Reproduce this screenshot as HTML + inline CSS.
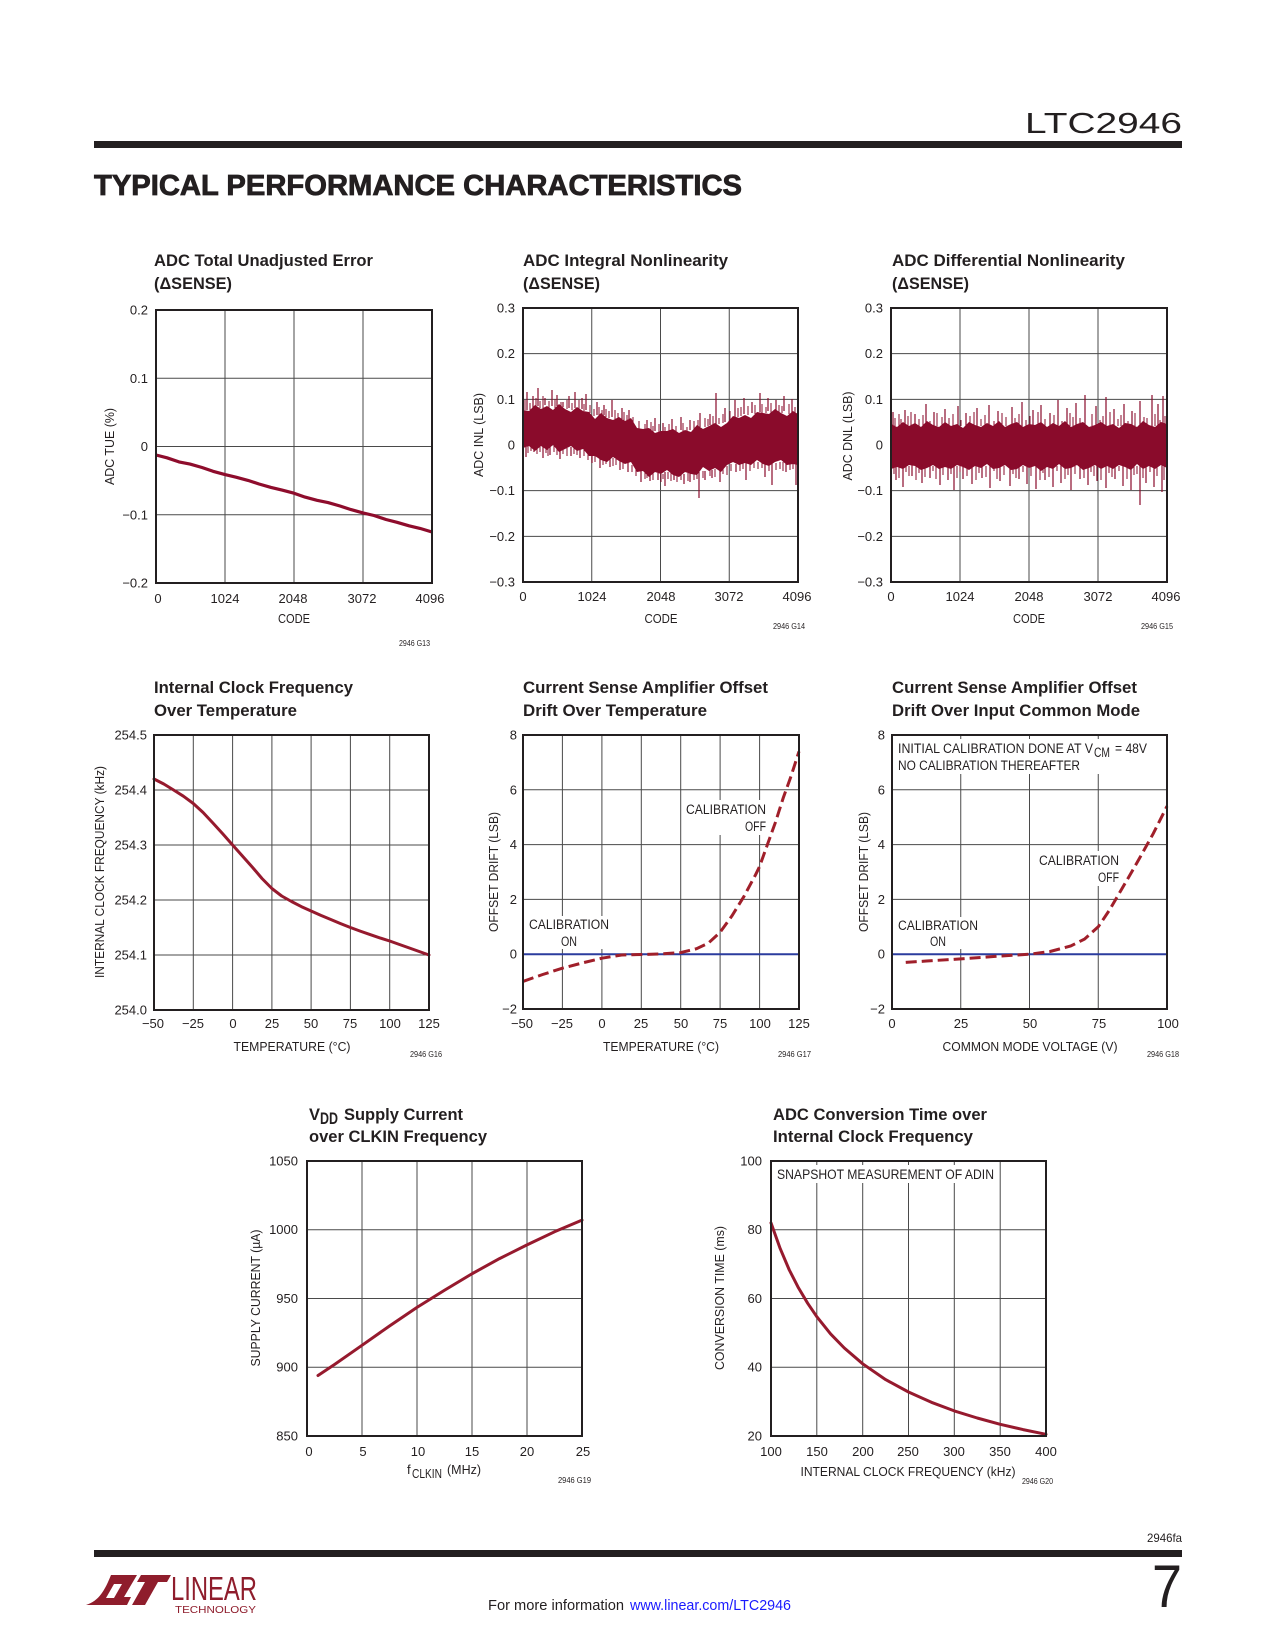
<!DOCTYPE html>
<html>
<head>
<meta charset="utf-8">
<style>
html,body{margin:0;padding:0;background:#fff;}
svg{display:block;}
.t{font-family:"Liberation Sans",sans-serif;font-size:13px;fill:#231f20;}
.ax{font-family:"Liberation Sans",sans-serif;font-size:13px;fill:#231f20;}
.ti{font-family:"Liberation Sans",sans-serif;font-size:17px;font-weight:bold;fill:#231f20;}
.sm{font-family:"Liberation Sans",sans-serif;font-size:8px;fill:#231f20;}
.an{font-family:"Liberation Sans",sans-serif;font-size:13.5px;fill:#231f20;}
.g{stroke:#4a4a4a;stroke-width:1;fill:none;}
.b{stroke:#231f20;stroke-width:2;fill:none;}
.cv{stroke:#961a2e;stroke-width:3;fill:none;stroke-linejoin:round;stroke-linecap:round;}
.dash{stroke:#a01f2a;stroke-width:3;fill:none;stroke-dasharray:11 5;}
.blue{stroke:#2b3c9e;stroke-width:2;}
</style>
</head>
<body>
<svg width="1275" height="1650" viewBox="0 0 1275 1650" xmlns="http://www.w3.org/2000/svg">
<rect x="0" y="0" width="1275" height="1650" fill="#fff"/>

<!-- HEADER -->
<text x="1182" y="133" text-anchor="end" font-family="Liberation Sans, sans-serif" font-size="29" fill="#231f20" textLength="157" lengthAdjust="spacingAndGlyphs">LTC2946</text>
<rect x="94" y="141" width="1088" height="7" fill="#231f20"/>
<text x="94" y="195" font-family="Liberation Sans, sans-serif" font-size="28.5" font-weight="bold" fill="#231f20" stroke="#231f20" stroke-width="0.8" textLength="648" lengthAdjust="spacingAndGlyphs">TYPICAL PERFORMANCE CHARACTERISTICS</text>

<!-- ============ CHART 1: TUE ============ -->
<text x="154" y="266" class="ti" textLength="219" lengthAdjust="spacingAndGlyphs">ADC Total Unadjusted Error</text>
<text x="154" y="289" class="ti" textLength="78" lengthAdjust="spacingAndGlyphs">(ΔSENSE)</text>
<g>
<line class="g" x1="225" y1="310" x2="225" y2="583"/>
<line class="g" x1="294" y1="310" x2="294" y2="583"/>
<line class="g" x1="363" y1="310" x2="363" y2="583"/>
<line class="g" x1="156" y1="378.25" x2="432" y2="378.25"/>
<line class="g" x1="156" y1="446.5" x2="432" y2="446.5"/>
<line class="g" x1="156" y1="514.75" x2="432" y2="514.75"/>
<polyline points="156,455 167,457.8 179,461.9 190,464.1 202,467.5 213,471.3 225,474.6 236,477.2 248,480.4 259,484.0 271,487.4 282,490.1 294,493.2 305,497.1 317,500.3 328,502.6 340,506.0 351,509.6 363,512.9 374,515.5 386,519.5 397,522.3 409,525.8 420,528.4 432,532" stroke="#8e0c2c" stroke-width="3.2" fill="none" stroke-linejoin="round"/>
<rect class="b" x="156" y="310" width="276" height="273"/>
</g>
<g class="t" text-anchor="end">
<text x="148" y="314.5">0.2</text>
<text x="148" y="382.75">0.1</text>
<text x="148" y="451">0</text>
<text x="148" y="519.25">−0.1</text>
<text x="148" y="587.5">−0.2</text>
</g>
<g class="t" text-anchor="middle">
<text x="158" y="603">0</text>
<text x="225" y="603">1024</text>
<text x="293" y="603">2048</text>
<text x="362" y="603">3072</text>
<text x="430" y="603">4096</text>
</g>
<text x="294" y="623" class="ax" text-anchor="middle" textLength="32" lengthAdjust="spacingAndGlyphs">CODE</text>
<text transform="translate(114,446.5) rotate(-90)" class="ax" text-anchor="middle" textLength="77" lengthAdjust="spacingAndGlyphs">ADC TUE (%)</text>
<text x="430" y="646" class="sm" text-anchor="end" textLength="31" lengthAdjust="spacingAndGlyphs">2946 G13</text>

<!-- ============ CHART 2: INL ============ -->
<text x="523" y="266" class="ti" textLength="205" lengthAdjust="spacingAndGlyphs">ADC Integral Nonlinearity</text>
<text x="523" y="289" class="ti" textLength="77" lengthAdjust="spacingAndGlyphs">(ΔSENSE)</text>
<g>
<line class="g" x1="591.75" y1="308" x2="591.75" y2="582"/>
<line class="g" x1="660.5" y1="308" x2="660.5" y2="582"/>
<line class="g" x1="729.25" y1="308" x2="729.25" y2="582"/>
<line class="g" x1="523" y1="353.67" x2="798" y2="353.67"/>
<line class="g" x1="523" y1="399.33" x2="798" y2="399.33"/>
<line class="g" x1="523" y1="445" x2="798" y2="445"/>
<line class="g" x1="523" y1="490.67" x2="798" y2="490.67"/>
<line class="g" x1="523" y1="536.33" x2="798" y2="536.33"/>
<polygon fill="#8a0b2b" points="523,410 529,411 535,405 541,409 547,406 553,410 559,404 565,409 571,412 577,407 583,411 589,412 595,419 601,413 607,418 613,420 619,417 625,421 631,418 637,428 643,429 649,428 655,433 661,431 667,431 673,429 679,433 685,430 691,432 697,425 703,429 709,426 715,423 721,427 727,423 733,416 739,418 745,415 751,418 757,412 763,413 769,414 775,409 781,413 787,416 793,411 798,414 798,465 793,464 787,465 781,460 775,462 769,466 763,464 757,460 751,465 745,463 739,465 733,462 727,465 721,472 715,468 709,471 703,467 697,475 691,474 685,472 679,477 673,475 667,470 661,474 655,472 649,477 643,471 637,472 631,462 625,464 619,461 613,457 607,462 601,460 595,456 589,456 583,449 577,451 571,446 565,449 559,452 553,445 547,450 541,446 535,451 529,446 523,448"/>
<path stroke="#8a0b2b" stroke-width="1.2" fill="none" d="M527,410V392 M533,408V396 M538,406V388 M545,405V398 M552,406V390 M557,406V395 M563,407V402 M569,408V396 M575,408V392 M582,409V398 M586,410V394 M597,415V402 M604,415V405 M612,417V400 M622,419V408 M629,421V410 M647,430V420 M655,431V418 M663,431V423 M672,431V419 M681,430V417 M690,430V420 M700,427V413 M710,425V414 M716,424V393 M725,422V408 M735,418V400 M744,414V398 M752,413V402 M760,412V393 M768,411V398 M776,412V400 M784,411V396 M792,413V399 M526,447V457 M534,447V452 M543,446V458 M550,447V455 M560,448V459 M571,447V456 M580,449V458 M592,454V463 M600,457V468 M610,457V467 M620,460V470 M628,462V472 M641,470V482 M650,472V481 M658,473V480 M665,472V486 M674,473V480 M684,474V484 M690,473V482 M699,472V498 M705,471V480 M712,470V478 M720,468V482 M736,464V472 M746,462V480 M765,462V477 M772,462V485 M786,463V472 M796,462V485"/>
<path stroke="#8a0b2b" stroke-width="1" fill="none" d="M525,410V400 M530,410V403 M536,408V398 M540,408V401 M543,408V396 M549,408V401 M555,408V399 M561,408V402 M567,409V400 M572,410V403 M579,410V400 M584,411V404 M590,413V405 M594,416V409 M599,416V407 M602,416V410 M606,417V409 M609,418V411 M615,419V410 M618,419V413 M624,421V412 M627,422V415 M633,425V417 M639,430V421 M645,431V424 M651,432V422 M653,432V426 M659,432V424 M665,432V427 M669,432V424 M676,432V426 M683,432V423 M687,432V427 M694,430V421 M698,428V420 M705,427V418 M708,426V419 M713,425V416 M719,424V418 M723,423V414 M730,420V411 M738,417V408 M741,416V407 M748,415V406 M755,414V405 M762,413V404 M766,413V407 M771,413V403 M779,413V405 M782,413V406 M789,414V404 M795,414V407 M528,446V453 M531,446V451 M537,446V454 M540,446V452 M546,446V453 M548,446V456 M554,446V452 M557,448V455 M563,448V454 M567,448V456 M574,447V454 M577,448V455 M584,450V456 M588,453V460 M595,456V462 M603,458V465 M606,458V464 M613,458V466 M616,459V465 M623,462V469 M632,465V472 M636,468V476 M645,472V479 M647,472V478 M653,473V480 M661,474V482 M663,474V479 M668,472V479 M671,473V481 M677,474V482 M681,474V480 M688,473V481 M694,473V480 M697,472V479 M703,471V478 M710,470V476 M715,469V477 M723,467V474 M727,466V475 M731,464V471 M740,464V471 M743,463V469 M750,463V471 M754,462V468 M758,462V469 M762,462V468 M769,463V471 M776,463V470 M780,462V469 M783,462V471 M790,463V470 M793,463V469"/>
<rect class="b" x="523" y="308" width="275" height="274"/>
</g>
<g class="t" text-anchor="end">
<text x="515" y="312.5">0.3</text>
<text x="515" y="358.2">0.2</text>
<text x="515" y="403.8">0.1</text>
<text x="515" y="449.5">0</text>
<text x="515" y="495.2">−0.1</text>
<text x="515" y="540.8">−0.2</text>
<text x="515" y="586.5">−0.3</text>
</g>
<g class="t" text-anchor="middle">
<text x="523" y="601">0</text>
<text x="592" y="601">1024</text>
<text x="661" y="601">2048</text>
<text x="729" y="601">3072</text>
<text x="797" y="601">4096</text>
</g>
<text x="661" y="623" class="ax" text-anchor="middle" textLength="33" lengthAdjust="spacingAndGlyphs">CODE</text>
<text transform="translate(483,435) rotate(-90)" class="ax" text-anchor="middle" textLength="84" lengthAdjust="spacingAndGlyphs">ADC INL (LSB)</text>
<text x="805" y="629" class="sm" text-anchor="end" textLength="32" lengthAdjust="spacingAndGlyphs">2946 G14</text>

<!-- ============ CHART 3: DNL ============ -->
<text x="892" y="266" class="ti" textLength="233" lengthAdjust="spacingAndGlyphs">ADC Differential Nonlinearity</text>
<text x="892" y="289" class="ti" textLength="77" lengthAdjust="spacingAndGlyphs">(ΔSENSE)</text>
<g>
<line class="g" x1="960" y1="308" x2="960" y2="582"/>
<line class="g" x1="1029" y1="308" x2="1029" y2="582"/>
<line class="g" x1="1098" y1="308" x2="1098" y2="582"/>
<line class="g" x1="891" y1="353.67" x2="1167" y2="353.67"/>
<line class="g" x1="891" y1="399.33" x2="1167" y2="399.33"/>
<line class="g" x1="891" y1="445" x2="1167" y2="445"/>
<line class="g" x1="891" y1="490.67" x2="1167" y2="490.67"/>
<line class="g" x1="891" y1="536.33" x2="1167" y2="536.33"/>
<polygon fill="#8a0b2b" points="891,424 897,427 903,422 909,426 915,423 921,427 927,421 933,425 939,427 945,422 951,426 957,424 963,428 969,422 975,425 981,427 987,423 993,426 999,421 1005,427 1011,424 1017,422 1023,427 1029,424 1035,425 1041,422 1047,427 1053,423 1059,426 1065,421 1071,427 1077,424 1083,422 1089,427 1095,425 1101,422 1107,426 1113,424 1119,428 1125,423 1131,424 1137,427 1143,421 1149,425 1155,427 1161,422 1167,424 1167,468 1161,465 1155,469 1149,466 1143,469 1137,464 1131,470 1125,467 1119,465 1113,469 1107,466 1101,469 1095,465 1089,468 1083,470 1077,465 1071,468 1065,469 1059,464 1053,469 1047,467 1041,471 1035,466 1029,468 1023,465 1017,469 1011,470 1005,465 999,468 993,469 987,464 981,468 975,466 969,470 963,467 957,465 951,469 945,467 939,469 933,465 927,468 921,470 915,466 909,465 903,469 897,467 891,469"/>
<path stroke="#8a0b2b" stroke-width="1.2" fill="none" d="M893,428V412 M905,428V410 M915,428V414 M926,428V404 M934,428V412 M945,428V409 M958,428V406 M966,428V413 M977,428V408 M989,428V405 M998,428V411 M1012,428V407 M1022,428V402 M1033,428V410 M1041,428V405 M1050,428V413 M1058,428V400 M1067,428V408 M1076,428V403 M1085,428V395 M1096,428V406 M1106,428V397 M1114,428V409 M1124,428V404 M1132,428V411 M1140,428V401 M1152,428V395 M1158,428V404 M1163,428V396 M896,464V480 M903,464V487 M912,464V476 M922,464V483 M930,464V478 M940,464V485 M948,464V480 M954,464V490 M963,464V479 M972,464V484 M982,464V478 M990,464V488 M1000,464V481 M1010,464V486 M1019,464V479 M1027,464V484 M1036,464V489 M1045,464V480 M1053,464V487 M1061,464V483 M1071,464V490 M1080,464V479 M1088,464V485 M1097,464V481 M1106,464V488 M1115,464V479 M1123,464V486 M1131,464V490 M1140,464V505 M1146,464V483 M1154,464V487 M1162,464V492"/>
<path stroke="#8a0b2b" stroke-width="1" fill="none" d="M895,426V418 M899,426V414 M901,426V419 M908,426V416 M911,426V412 M919,426V419 M923,426V415 M930,426V421 M937,426V413 M942,426V417 M949,426V418 M953,426V414 M961,426V420 M970,426V416 M974,426V412 M981,426V419 M985,426V415 M994,426V421 M1002,426V413 M1006,426V417 M1015,426V418 M1019,426V414 M1026,426V420 M1030,426V416 M1038,426V412 M1045,426V419 M1054,426V415 M1062,426V421 M1070,426V413 M1073,426V417 M1080,426V418 M1092,426V414 M1100,426V420 M1103,426V416 M1110,426V412 M1118,426V419 M1121,426V415 M1128,426V421 M1135,426V413 M1144,426V417 M1147,426V418 M1155,426V414 M1160,426V420 M1165,426V416 M894,466V474 M899,466V478 M906,466V472 M909,466V476 M916,466V480 M919,466V473 M925,466V477 M933,466V471 M936,466V479 M943,466V475 M951,466V474 M957,466V478 M960,466V472 M967,466V476 M976,466V480 M979,466V473 M986,466V477 M994,466V471 M997,466V479 M1004,466V475 M1013,466V474 M1016,466V478 M1023,466V472 M1031,466V476 M1040,466V480 M1043,466V473 M1049,466V477 M1057,466V471 M1065,466V479 M1068,466V475 M1075,466V474 M1084,466V478 M1091,466V472 M1094,466V476 M1101,466V480 M1109,466V473 M1112,466V477 M1119,466V471 M1127,466V479 M1134,466V475 M1137,466V474 M1143,466V478 M1150,466V472 M1157,466V476 M1164,466V480"/>
<rect class="b" x="891" y="308" width="276" height="274"/>
</g>
<g class="t" text-anchor="end">
<text x="883" y="312.5">0.3</text>
<text x="883" y="358.2">0.2</text>
<text x="883" y="403.8">0.1</text>
<text x="883" y="449.5">0</text>
<text x="883" y="495.2">−0.1</text>
<text x="883" y="540.8">−0.2</text>
<text x="883" y="586.5">−0.3</text>
</g>
<g class="t" text-anchor="middle">
<text x="891" y="601">0</text>
<text x="960" y="601">1024</text>
<text x="1029" y="601">2048</text>
<text x="1098" y="601">3072</text>
<text x="1166" y="601">4096</text>
</g>
<text x="1029" y="623" class="ax" text-anchor="middle" textLength="32" lengthAdjust="spacingAndGlyphs">CODE</text>
<text transform="translate(852,436) rotate(-90)" class="ax" text-anchor="middle" textLength="89" lengthAdjust="spacingAndGlyphs">ADC DNL (LSB)</text>
<text x="1173" y="629" class="sm" text-anchor="end" textLength="32" lengthAdjust="spacingAndGlyphs">2946 G15</text>

<!-- ============ CHART 4: Clock vs Temp ============ -->
<text x="154" y="693" class="ti" textLength="199" lengthAdjust="spacingAndGlyphs">Internal Clock Frequency</text>
<text x="154" y="716" class="ti" textLength="143" lengthAdjust="spacingAndGlyphs">Over Temperature</text>
<g>
<line class="g" x1="193.3" y1="735" x2="193.3" y2="1010"/>
<line class="g" x1="232.6" y1="735" x2="232.6" y2="1010"/>
<line class="g" x1="271.9" y1="735" x2="271.9" y2="1010"/>
<line class="g" x1="311.1" y1="735" x2="311.1" y2="1010"/>
<line class="g" x1="350.4" y1="735" x2="350.4" y2="1010"/>
<line class="g" x1="389.7" y1="735" x2="389.7" y2="1010"/>
<line class="g" x1="154" y1="790" x2="429" y2="790"/>
<line class="g" x1="154" y1="845" x2="429" y2="845"/>
<line class="g" x1="154" y1="900" x2="429" y2="900"/>
<line class="g" x1="154" y1="955" x2="429" y2="955"/>
<polyline class="cv" stroke="#8e1530" points="154,779 163.8,784 173.6,790 183.4,796.2 193.3,803.5 203.1,812.5 212.9,823 222.7,833.8 232.6,845 242.4,856 252.2,867 262,878.5 271.9,888.5 281.7,896 291.5,901.5 301.3,906.6 311.1,911 320.9,915.4 330.8,919.5 340.6,923.6 350.4,927.5 360.2,931.1 370.1,934.6 379.9,937.9 389.7,941 399.5,944.5 409.4,948 419.2,951.5 429,955"/>
<rect class="b" x="154" y="735" width="275" height="275"/>
</g>
<g class="t" text-anchor="end">
<text x="147" y="739.5">254.5</text>
<text x="147" y="794.5">254.4</text>
<text x="147" y="849.5">254.3</text>
<text x="147" y="904.5">254.2</text>
<text x="147" y="959.5">254.1</text>
<text x="147" y="1014.5">254.0</text>
</g>
<g class="t" text-anchor="middle">
<text x="153" y="1028">−50</text>
<text x="193" y="1028">−25</text>
<text x="233" y="1028">0</text>
<text x="272" y="1028">25</text>
<text x="311" y="1028">50</text>
<text x="350" y="1028">75</text>
<text x="390" y="1028">100</text>
<text x="429" y="1028">125</text>
</g>
<text x="292" y="1051" class="ax" text-anchor="middle" textLength="117" lengthAdjust="spacingAndGlyphs">TEMPERATURE (°C)</text>
<text transform="translate(104,872) rotate(-90)" class="ax" text-anchor="middle" textLength="212" lengthAdjust="spacingAndGlyphs">INTERNAL CLOCK FREQUENCY (kHz)</text>
<text x="442" y="1057" class="sm" text-anchor="end" textLength="32" lengthAdjust="spacingAndGlyphs">2946 G16</text>

<!-- ============ CHART 5: Offset drift vs Temp ============ -->
<text x="523" y="693" class="ti" textLength="245" lengthAdjust="spacingAndGlyphs">Current Sense Amplifier Offset</text>
<text x="523" y="716" class="ti" textLength="184" lengthAdjust="spacingAndGlyphs">Drift Over Temperature</text>
<g>
<line class="g" x1="562.4" y1="735" x2="562.4" y2="1009"/>
<line class="g" x1="601.9" y1="735" x2="601.9" y2="1009"/>
<line class="g" x1="641.3" y1="735" x2="641.3" y2="1009"/>
<line class="g" x1="680.7" y1="735" x2="680.7" y2="1009"/>
<line class="g" x1="720.1" y1="735" x2="720.1" y2="1009"/>
<line class="g" x1="759.6" y1="735" x2="759.6" y2="1009"/>
<line class="g" x1="523" y1="789.8" x2="799" y2="789.8"/>
<line class="g" x1="523" y1="844.6" x2="799" y2="844.6"/>
<line class="g" x1="523" y1="899.4" x2="799" y2="899.4"/>
<line class="g" x1="523" y1="954.2" x2="799" y2="954.2"/>
<rect x="527" y="916" width="84" height="33" fill="#fff"/>
<rect x="684" y="800" width="85" height="35" fill="#fff"/>
<line class="blue" x1="523" y1="954.2" x2="799" y2="954.2"/>
<polyline class="dash" points="523,981.4 542.7,974.5 562.4,968.2 582.1,963 601.9,958.2 621.6,955 641.3,954.5 661,953.9 680.7,952.6 696.5,948.7 708.3,943.2 720.1,932.3 732,915.8 743.8,896.7 755.6,874.7 759.6,866.5 767.4,844.6 775.3,822.7 783.2,798 791.1,776 799,751.4"/>
<rect class="b" x="523" y="735" width="276" height="274"/>
</g>
<text x="529" y="929" class="an" textLength="80" lengthAdjust="spacingAndGlyphs">CALIBRATION</text>
<text x="569" y="946" class="an" text-anchor="middle" textLength="16" lengthAdjust="spacingAndGlyphs">ON</text>
<text x="686" y="814" class="an" textLength="80" lengthAdjust="spacingAndGlyphs">CALIBRATION</text>
<text x="766" y="831" class="an" text-anchor="end" textLength="21" lengthAdjust="spacingAndGlyphs">OFF</text>
<g class="t" text-anchor="end">
<text x="517" y="739.5">8</text>
<text x="517" y="794.3">6</text>
<text x="517" y="849.1">4</text>
<text x="517" y="903.9">2</text>
<text x="517" y="958.7">0</text>
<text x="517" y="1013.5">−2</text>
</g>
<g class="t" text-anchor="middle">
<text x="522" y="1028">−50</text>
<text x="562" y="1028">−25</text>
<text x="602" y="1028">0</text>
<text x="641" y="1028">25</text>
<text x="681" y="1028">50</text>
<text x="720" y="1028">75</text>
<text x="760" y="1028">100</text>
<text x="799" y="1028">125</text>
</g>
<text x="661" y="1051" class="ax" text-anchor="middle" textLength="116" lengthAdjust="spacingAndGlyphs">TEMPERATURE (°C)</text>
<text transform="translate(498,872) rotate(-90)" class="ax" text-anchor="middle" textLength="120" lengthAdjust="spacingAndGlyphs">OFFSET DRIFT (LSB)</text>
<text x="811" y="1057" class="sm" text-anchor="end" textLength="33" lengthAdjust="spacingAndGlyphs">2946 G17</text>

<!-- ============ CHART 6: Offset drift vs CM ============ -->
<text x="892" y="693" class="ti" textLength="245" lengthAdjust="spacingAndGlyphs">Current Sense Amplifier Offset</text>
<text x="892" y="716" class="ti" textLength="248" lengthAdjust="spacingAndGlyphs">Drift Over Input Common Mode</text>
<g>
<line class="g" x1="960.75" y1="735" x2="960.75" y2="1009"/>
<line class="g" x1="1029.5" y1="735" x2="1029.5" y2="1009"/>
<line class="g" x1="1098.25" y1="735" x2="1098.25" y2="1009"/>
<line class="g" x1="892" y1="789.8" x2="1167" y2="789.8"/>
<line class="g" x1="892" y1="844.6" x2="1167" y2="844.6"/>
<line class="g" x1="892" y1="899.4" x2="1167" y2="899.4"/>
<line class="g" x1="892" y1="954.2" x2="1167" y2="954.2"/>
<rect x="896" y="739" width="253" height="35" fill="#fff"/>
<rect x="1037" y="851" width="84" height="35" fill="#fff"/>
<rect x="896" y="917" width="84" height="32" fill="#fff"/>
<line class="blue" x1="892" y1="954.2" x2="1167" y2="954.2"/>
<polyline class="dash" points="905.75,962.4 926.4,961 960.75,958.9 995.1,956.4 1029.5,954.2 1050.1,951.5 1070.75,946 1084.5,939.1 1098.25,926.8 1109.25,910.4 1118.9,893.9 1128.5,877.5 1139.5,858.3 1153.25,833.6 1167,806.2"/>
<rect class="b" x="892" y="735" width="275" height="274"/>
</g>
<text x="898" y="753" class="an" textLength="195" lengthAdjust="spacingAndGlyphs">INITIAL CALIBRATION DONE AT V</text>
<text x="1094" y="757" class="an" font-size="10.5" textLength="16" lengthAdjust="spacingAndGlyphs">CM</text>
<text x="1115" y="753" class="an" textLength="32" lengthAdjust="spacingAndGlyphs">= 48V</text>
<text x="898" y="770" class="an" textLength="182" lengthAdjust="spacingAndGlyphs">NO CALIBRATION THEREAFTER</text>
<text x="1039" y="865" class="an" textLength="80" lengthAdjust="spacingAndGlyphs">CALIBRATION</text>
<text x="1119" y="882" class="an" text-anchor="end" textLength="21" lengthAdjust="spacingAndGlyphs">OFF</text>
<text x="898" y="930" class="an" textLength="80" lengthAdjust="spacingAndGlyphs">CALIBRATION</text>
<text x="938" y="946" class="an" text-anchor="middle" textLength="16" lengthAdjust="spacingAndGlyphs">ON</text>
<g class="t" text-anchor="end">
<text x="885" y="739.5">8</text>
<text x="885" y="794.3">6</text>
<text x="885" y="849.1">4</text>
<text x="885" y="903.9">2</text>
<text x="885" y="958.7">0</text>
<text x="885" y="1013.5">−2</text>
</g>
<g class="t" text-anchor="middle">
<text x="892" y="1028">0</text>
<text x="961" y="1028">25</text>
<text x="1030" y="1028">50</text>
<text x="1099" y="1028">75</text>
<text x="1168" y="1028">100</text>
</g>
<text x="1030" y="1051" class="ax" text-anchor="middle" textLength="175" lengthAdjust="spacingAndGlyphs">COMMON MODE VOLTAGE (V)</text>
<text transform="translate(868,872) rotate(-90)" class="ax" text-anchor="middle" textLength="120" lengthAdjust="spacingAndGlyphs">OFFSET DRIFT (LSB)</text>
<text x="1179" y="1057" class="sm" text-anchor="end" textLength="32" lengthAdjust="spacingAndGlyphs">2946 G18</text>

<!-- ============ CHART 7: VDD supply current ============ -->
<text x="309" y="1120" class="ti" textLength="11" lengthAdjust="spacingAndGlyphs">V</text>
<text x="320" y="1124" class="ti" font-size="12.5" textLength="18" lengthAdjust="spacingAndGlyphs">DD</text>
<text x="344" y="1120" class="ti" textLength="119" lengthAdjust="spacingAndGlyphs">Supply Current</text>
<text x="309" y="1142" class="ti" textLength="178" lengthAdjust="spacingAndGlyphs">over CLKIN Frequency</text>
<g>
<line class="g" x1="362" y1="1161" x2="362" y2="1436"/>
<line class="g" x1="417" y1="1161" x2="417" y2="1436"/>
<line class="g" x1="472" y1="1161" x2="472" y2="1436"/>
<line class="g" x1="527" y1="1161" x2="527" y2="1436"/>
<line class="g" x1="307" y1="1229.75" x2="582" y2="1229.75"/>
<line class="g" x1="307" y1="1298.5" x2="582" y2="1298.5"/>
<line class="g" x1="307" y1="1367.25" x2="582" y2="1367.25"/>
<polyline class="cv" stroke="#9b1b24" points="318,1375.5 334.5,1364.5 362,1345.3 389.5,1326 417,1307.4 444.5,1290.25 472,1273.75 499.5,1258.6 527,1244.9 554.5,1231.8 582,1220.1"/>
<rect class="b" x="307" y="1161" width="275" height="275"/>
</g>
<g class="t" text-anchor="end">
<text x="298" y="1165.5">1050</text>
<text x="298" y="1234.2">1000</text>
<text x="298" y="1303">950</text>
<text x="298" y="1371.7">900</text>
<text x="298" y="1440.5">850</text>
</g>
<g class="t" text-anchor="middle">
<text x="309" y="1456">0</text>
<text x="363" y="1456">5</text>
<text x="418" y="1456">10</text>
<text x="472" y="1456">15</text>
<text x="527" y="1456">20</text>
<text x="583" y="1456">25</text>
</g>
<text x="407" y="1474" class="ax">f</text>
<text x="412" y="1478" class="ax" font-size="10.5" textLength="30" lengthAdjust="spacingAndGlyphs">CLKIN</text>
<text x="447" y="1474" class="ax" textLength="34" lengthAdjust="spacingAndGlyphs">(MHz)</text>
<text transform="translate(260,1298) rotate(-90)" class="ax" text-anchor="middle" textLength="137" lengthAdjust="spacingAndGlyphs">SUPPLY CURRENT (µA)</text>
<text x="591" y="1483" class="sm" text-anchor="end" textLength="33" lengthAdjust="spacingAndGlyphs">2946 G19</text>

<!-- ============ CHART 8: Conversion time ============ -->
<text x="773" y="1120" class="ti" textLength="214" lengthAdjust="spacingAndGlyphs">ADC Conversion Time over</text>
<text x="773" y="1142" class="ti" textLength="200" lengthAdjust="spacingAndGlyphs">Internal Clock Frequency</text>
<g>
<line class="g" x1="816.8" y1="1161" x2="816.8" y2="1436"/>
<line class="g" x1="862.7" y1="1161" x2="862.7" y2="1436"/>
<line class="g" x1="908.5" y1="1161" x2="908.5" y2="1436"/>
<line class="g" x1="954.3" y1="1161" x2="954.3" y2="1436"/>
<line class="g" x1="1000.2" y1="1161" x2="1000.2" y2="1436"/>
<line class="g" x1="771" y1="1229.75" x2="1046" y2="1229.75"/>
<line class="g" x1="771" y1="1298.5" x2="1046" y2="1298.5"/>
<line class="g" x1="771" y1="1367.25" x2="1046" y2="1367.25"/>
<rect x="775" y="1165" width="222" height="18" fill="#fff"/>
<polyline class="cv" stroke="#9b1b24" points="771,1222.9 780.2,1248.6 789.3,1270 798.5,1287.9 807.7,1303.3 816.8,1316.7 830.6,1333.9 844.3,1348 862.7,1363.8 885.6,1379.6 908.5,1392 931.4,1402.3 954.3,1410.9 977.2,1418 1000.2,1424.3 1023.1,1429.6 1046,1434.3"/>
<rect class="b" x="771" y="1161" width="275" height="275"/>
</g>
<text x="777" y="1179" class="an" textLength="217" lengthAdjust="spacingAndGlyphs">SNAPSHOT MEASUREMENT OF ADIN</text>
<g class="t" text-anchor="end">
<text x="762" y="1165.5">100</text>
<text x="762" y="1234.2">80</text>
<text x="762" y="1303">60</text>
<text x="762" y="1371.7">40</text>
<text x="762" y="1440.5">20</text>
</g>
<g class="t" text-anchor="middle">
<text x="771" y="1456">100</text>
<text x="817" y="1456">150</text>
<text x="863" y="1456">200</text>
<text x="908" y="1456">250</text>
<text x="954" y="1456">300</text>
<text x="1000" y="1456">350</text>
<text x="1046" y="1456">400</text>
</g>
<text x="908" y="1476" class="ax" text-anchor="middle" textLength="215" lengthAdjust="spacingAndGlyphs">INTERNAL CLOCK FREQUENCY (kHz)</text>
<text transform="translate(724,1298) rotate(-90)" class="ax" text-anchor="middle" textLength="144" lengthAdjust="spacingAndGlyphs">CONVERSION TIME (ms)</text>
<text x="1053" y="1484" class="sm" text-anchor="end" textLength="31" lengthAdjust="spacingAndGlyphs">2946 G20</text>

<!-- FOOTER -->
<text x="1182" y="1542" text-anchor="end" font-family="Liberation Sans, sans-serif" font-size="12" fill="#231f20" textLength="35" lengthAdjust="spacingAndGlyphs">2946fa</text>
<rect x="94" y="1550" width="1088" height="7" fill="#231f20"/>
<text x="1182" y="1607" text-anchor="end" font-family="Liberation Sans, sans-serif" font-size="60" fill="#231f20" textLength="30" lengthAdjust="spacingAndGlyphs">7</text>
<text x="488" y="1610" font-family="Liberation Sans, sans-serif" font-size="15" fill="#231f20" textLength="136" lengthAdjust="spacingAndGlyphs">For more information</text>
<text x="630" y="1610" font-family="Liberation Sans, sans-serif" font-size="15" fill="#1a1aff" textLength="161" lengthAdjust="spacingAndGlyphs">www.linear.com/LTC2946</text>

<!-- Logo -->
<path fill="#8f1d2c" d="M111,1575 L137,1575 L124,1597 L131,1597 L127,1605 L86,1605 C99,1601 105,1590 111,1575 Z"/>
<path fill="#fff" d="M114,1584 L122,1584 L114,1598 L106,1598 Z"/>
<path fill="#8f1d2c" d="M141,1575 L171,1575 L167,1582 L158,1582 L145,1605 L132,1605 L145,1582 L137,1582 Z"/>
<text x="171" y="1600" font-family="Liberation Sans, sans-serif" font-size="33" fill="#8f1d2c" textLength="86" lengthAdjust="spacingAndGlyphs">LINEAR</text>
<text x="175" y="1613" font-family="Liberation Sans, sans-serif" font-size="10.5" fill="#8f1d2c" textLength="81" lengthAdjust="spacingAndGlyphs">TECHNOLOGY</text>
</svg>
</body>
</html>
